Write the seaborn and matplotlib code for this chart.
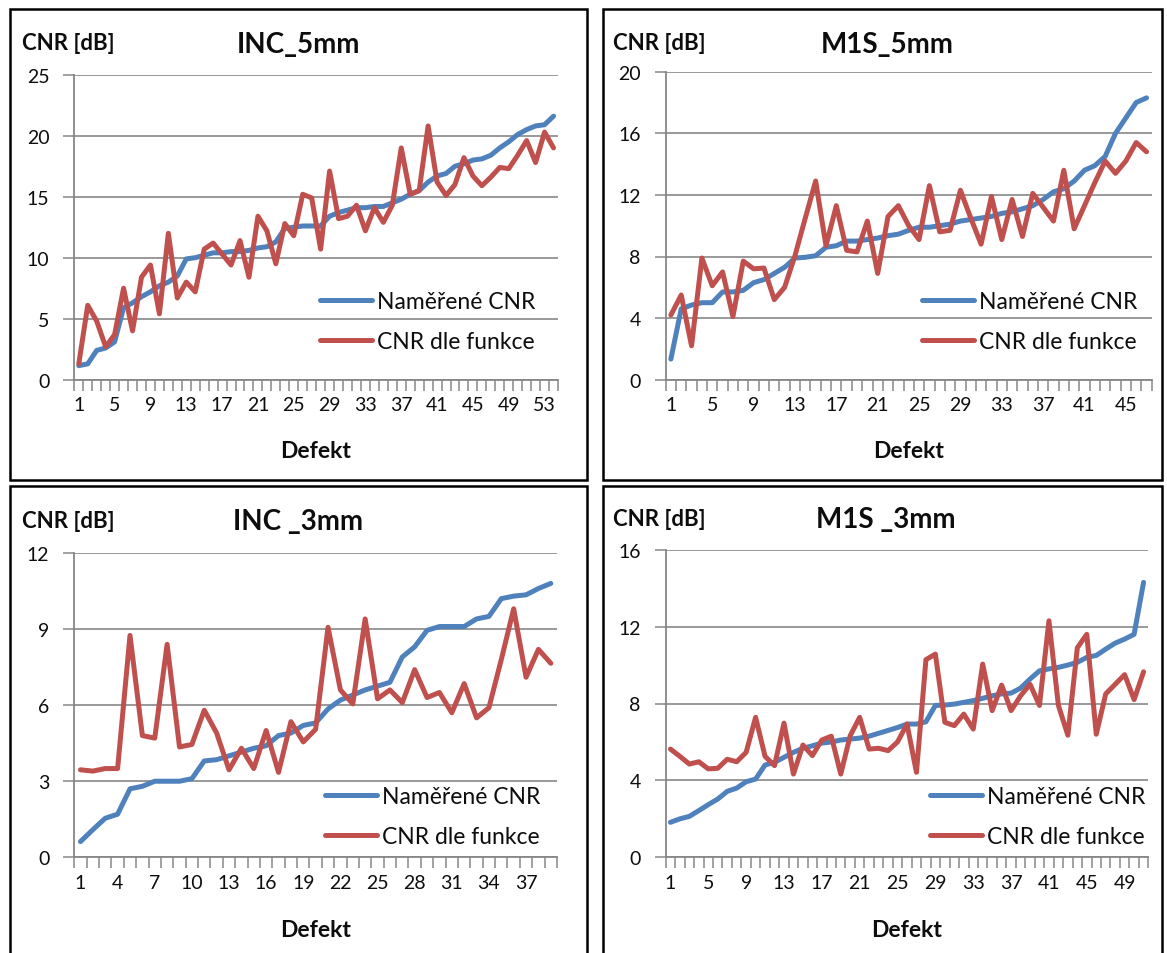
import numpy as np
import pandas as pd
import matplotlib
matplotlib.use("Agg")
import matplotlib.pyplot as plt
from matplotlib.patches import Rectangle
import seaborn as sns

# ---- data -------------------------------------------------------------
inc5_measured = [1.15, 1.3, 2.4, 2.6, 3.1, 5.9, 6.3, 6.8, 7.2, 7.7, 8.0, 8.5, 9.9, 10.0, 10.2,
                 10.4, 10.4, 10.5, 10.5, 10.6, 10.8, 10.9, 11.3, 12.4, 12.5, 12.6, 12.6, 12.6,
                 13.4, 13.7, 13.9, 14.1, 14.1, 14.2, 14.2, 14.5, 14.8, 15.2, 15.5, 16.2, 16.7,
                 16.9, 17.5, 17.7, 18.0, 18.1, 18.4, 19.0, 19.5, 20.1, 20.5, 20.8, 20.9, 21.6]
inc5_model = [1.3, 6.1, 4.8, 2.7, 3.7, 7.5, 4.0, 8.4, 9.4, 5.4, 12.0, 6.7, 8.0, 7.2, 10.7, 11.2,
              10.3, 9.4, 11.4, 8.4, 13.4, 12.2, 9.5, 12.8, 11.8, 15.2, 14.9, 10.7, 17.1, 13.2,
              13.4, 14.3, 12.2, 14.1, 12.9, 14.3, 19.0, 15.2, 15.5, 20.8, 16.2, 15.1, 16.0, 18.2,
              16.7, 15.9, 16.6, 17.4, 17.3, 18.4, 19.6, 17.8, 20.3, 19.0]

m1s5_measured = [1.34, 4.6, 4.85, 5.0, 5.0, 5.7, 5.7, 5.8, 6.3, 6.5, 6.9, 7.3, 7.9, 7.95, 8.05,
                 8.6, 8.7, 9.0, 9.0, 9.1, 9.2, 9.35, 9.45, 9.7, 9.9, 9.9, 10.0, 10.1, 10.3, 10.4,
                 10.5, 10.6, 10.8, 10.9, 11.1, 11.3, 11.7, 12.2, 12.4, 12.9, 13.6, 13.9, 14.5,
                 16.0, 17.0, 18.0, 18.3]
m1s5_model = [4.2, 5.5, 2.2, 7.9, 6.1, 7.0, 4.1, 7.7, 7.2, 7.25, 5.2, 6.0, 8.05, 10.5, 12.9, 8.7,
              11.3, 8.4, 8.3, 10.3, 6.9, 10.6, 11.3, 10.0, 9.1, 12.6, 9.6, 9.7, 12.3, 10.5, 8.8,
              11.9, 9.1, 11.7, 9.3, 12.1, 11.2, 10.3, 13.6, 9.8, 11.3, 12.8, 14.2, 13.4, 14.2,
              15.4, 14.8]

inc3_measured = [0.62, 1.09, 1.54, 1.7, 2.7, 2.8, 3.0, 3.0, 3.0, 3.1, 3.8, 3.85, 4.0, 4.15, 4.3,
                 4.4, 4.8, 4.9, 5.2, 5.3, 5.85, 6.2, 6.4, 6.6, 6.75, 6.9, 7.9, 8.3, 8.95, 9.1,
                 9.1, 9.1, 9.4, 9.5, 10.2, 10.3, 10.35, 10.6, 10.8]
inc3_model = [3.45, 3.4, 3.5, 3.5, 8.75, 4.8, 4.7, 8.4, 4.35, 4.45, 5.8, 4.9, 3.45, 4.3, 3.5, 5.0,
              3.35, 5.35, 4.55, 5.05, 9.07, 6.6, 6.05, 9.4, 6.25, 6.6, 6.1, 7.4, 6.3, 6.5, 5.7,
              6.85, 5.5, 5.9, 7.8, 9.8, 7.1, 8.2, 7.65]

m1s3_measured = [1.82, 2.0, 2.13, 2.43, 2.74, 3.03, 3.43, 3.6, 3.93, 4.07, 4.8, 4.94, 5.2, 5.46,
                 5.67, 5.8, 5.94, 6.0, 6.1, 6.15, 6.2, 6.3, 6.45, 6.6, 6.75, 6.93, 6.93, 7.05,
                 7.9, 7.92, 7.97, 8.06, 8.15, 8.27, 8.4, 8.5, 8.54, 8.8, 9.27, 9.7, 9.8, 9.88,
                 10.0, 10.14, 10.4, 10.5, 10.83, 11.14, 11.35, 11.6, 14.3]
m1s3_model = [5.63, 5.25, 4.85, 4.97, 4.6, 4.63, 5.1, 4.97, 5.46, 7.28, 5.25, 4.77, 6.98, 4.33,
              5.84, 5.29, 6.1, 6.3, 4.33, 6.33, 7.28, 5.63, 5.67, 5.55, 6.0, 6.93, 4.42, 10.28,
              10.57, 7.02, 6.85, 7.45, 6.67, 10.05, 7.63, 8.96, 7.63, 8.4, 9.0, 7.9, 12.3, 7.9,
              6.35, 10.9, 11.6, 6.4, 8.5, 9.0, 9.5, 8.2, 9.65]

series_names = ["Naměřené CNR", "CNR dle funkce"]
titles = ["INC_5mm", "M1S_5mm", "INC _3mm", "M1S _3mm"]
y_ticks = [[0, 5, 10, 15, 20, 25], [0, 4, 8, 12, 16, 20], [0, 3, 6, 9, 12], [0, 4, 8, 12, 16]]
x_label_steps = [4, 4, 3, 4]
y_label = "CNR [dB]"
x_label = "Defekt"

# ---- style ------------------------------------------------------------
sns.set_theme(style="white")
plt.rcParams["font.family"] = ["Lato", "DejaVu Sans"]

BLUE = "#4F81BD"
RED = "#C0504D"
GRID = "#878787"
TEXT = "#0d0d0d"

W, H = 1167, 954
fig = plt.figure(figsize=(W / 100, H / 100), dpi=100)


def fx(px):
    return px / W


def fy(py):
    return 1 - py / H


# axes rectangles in pixel coordinates (left, top, right, bottom)
axes_px = [(74.3, 75.7, 558.0, 380.7),
           (665.7, 72.7, 1151.7, 380.7),
           (74.3, 554.0, 557.0, 858.3),
           (665.7, 550.7, 1148.3, 858.3)]
# panel frames (left, top, right, bottom)
frames_px = [(10, 10, 587, 481), (603, 10, 1162, 481),
             (10, 487, 587, 956), (603, 487, 1162, 956)]
# text anchors
ylab_px = [(22, 44), (613, 43), (22, 521), (613, 519)]
title_px = [(298, 45), (887, 45), (298, 522), (886, 520)]
xlab_px = [(316, 452), (909, 452), (316, 931), (907, 931)]
legend_px = [(320, 292), (922, 292), (325, 787), (930, 787)]

data = [(inc5_measured, inc5_model), (m1s5_measured, m1s5_model),
        (inc3_measured, inc3_model), (m1s3_measured, m1s3_model)]

for k in range(4):
    l, t, r, b = axes_px[k]
    ax = fig.add_axes([fx(l), fy(b), fx(r) - fx(l), fy(t) - fy(b)])
    measured, model = data[k]
    n = len(measured)
    idx = np.arange(1, n + 1)
    df = pd.concat([
        pd.DataFrame({"Defekt": idx, "CNR": measured, "Řada": series_names[0]}),
        pd.DataFrame({"Defekt": idx, "CNR": model, "Řada": series_names[1]}),
    ])
    sns.lineplot(data=df, x="Defekt", y="CNR", hue="Řada", palette=[BLUE, RED],
                 linewidth=3.6, ax=ax, legend=False, sort=False,
                 solid_joinstyle="round", solid_capstyle="round")

    yt = y_ticks[k]
    ax.set_ylim(yt[0], yt[-1])
    ax.set_xlim(0.5, n + 0.5)
    ax.set_yticks(yt)
    ax.set_yticklabels([str(v) for v in yt], fontsize=14)
    ax.grid(axis="y", color=GRID, linewidth=1.2)
    ax.grid(axis="x", visible=False)
    ax.set_axisbelow(True)

    # tick marks between categories, labels centred on categories
    ax.set_xticks(np.arange(0.5, n + 1.0, 1.0))
    ax.set_xticklabels([])
    lab_pos = np.arange(1, n + 1, x_label_steps[k])
    ax.set_xticks(lab_pos, [str(v) for v in lab_pos], minor=True)
    ax.tick_params(axis="x", which="major", length=8, width=1.1, color=GRID, direction="out",
                   bottom=True)
    ax.tick_params(axis="x", which="minor", length=0, pad=12, labelsize=14, bottom=True)
    ax.tick_params(axis="y", which="major", length=8, width=1.1, color=GRID, direction="out",
                   pad=10, left=True)
    for lab in ax.get_xticklabels(minor=True) + ax.get_yticklabels():
        lab.set_color(TEXT)

    for side in ("top", "right"):
        ax.spines[side].set_visible(False)
    for side in ("left", "bottom"):
        ax.spines[side].set_color(GRID)
        ax.spines[side].set_linewidth(1.3)
    ax.set_xlabel("")
    ax.set_ylabel("")

    handles = ax.get_lines()[:2]
    lx, ly = legend_px[k]
    leg = ax.legend(handles, series_names, loc="upper left",
                    bbox_to_anchor=(fx(lx), fy(ly)), bbox_transform=fig.transFigure,
                    frameon=False, fontsize=16.5, handlelength=2.25, handletextpad=0.25,
                    labelspacing=0.85, borderpad=0, borderaxespad=0)
    for txt in leg.get_texts():
        txt.set_color(TEXT)

    fl, ft, fr, fb = frames_px[k]
    fig.add_artist(Rectangle((fx(fl), fy(fb)), fx(fr) - fx(fl), fy(ft) - fy(fb),
                             transform=fig.transFigure, fill=False,
                             edgecolor="black", linewidth=1.8))

    fig.text(fx(ylab_px[k][0]), fy(ylab_px[k][1]), y_label, fontsize=16, fontweight="bold",
             ha="left", va="center", color=TEXT)
    fig.text(fx(title_px[k][0]), fy(title_px[k][1]), titles[k], fontsize=20,
             fontweight="bold", ha="center", va="center", color=TEXT)
    fig.text(fx(xlab_px[k][0]), fy(xlab_px[k][1]), x_label, fontsize=16.5, fontweight="bold",
             ha="center", va="center", color=TEXT)

fig.savefig("out.png", dpi=100, facecolor="white")
